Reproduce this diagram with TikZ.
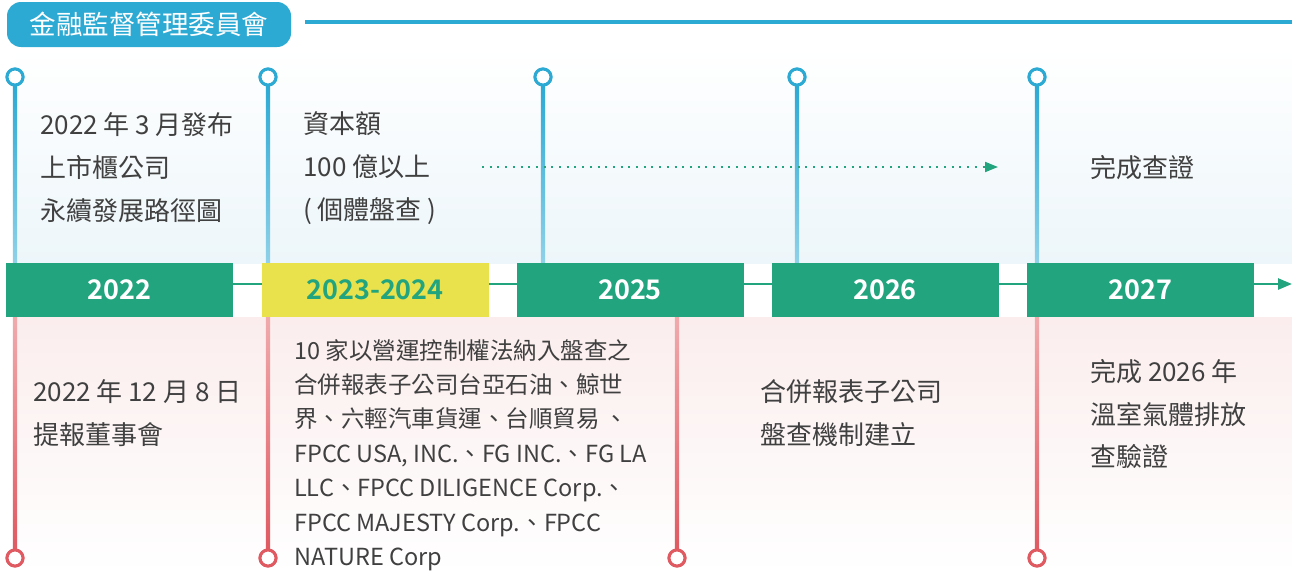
\documentclass[tikz,border=0pt]{standalone}
\usepackage{fontspec}
\setmainfont{Noto Sans CJK TC}[BoldFont={Noto Sans CJK TC Bold}]
\usetikzlibrary{arrows.meta,calc,positioning}
\definecolor{cSky}{HTML}{2DAAD4}
\definecolor{cSkyLt}{HTML}{8FD1E8}
\definecolor{cGreen}{HTML}{22A57E}
\definecolor{cYellow}{HTML}{E9E24D}
\definecolor{cRed}{HTML}{E05A62}
\definecolor{cRedLt}{HTML}{F0AAAC}
\definecolor{cBgBlue}{HTML}{EDF6FA}
\definecolor{cBgPink}{HTML}{FBEDED}
\definecolor{cInk}{HTML}{404040}
\tikzset{
  yearbox/.style={rectangle,fill=cGreen,text=white,minimum width=227pt,minimum height=54pt,inner sep=0pt,font=\fontsize{27}{30}\selectfont\bfseries},
  ring/.style={circle,draw=#1,fill=white,line width=3pt,minimum size=16pt,inner sep=0pt},
  note/.style={anchor=west,align=left,inner sep=0pt,text=cInk,font=\fontsize{26}{43}\selectfont},
  smallnote/.style={note,font=\fontsize{23.5}{34.4}\selectfont},
  hdr/.style={rectangle,rounded corners=14pt,fill=cSky,text=white,minimum width=284pt,minimum height=45pt,inner sep=0pt,font=\fontsize{26.5}{30}\selectfont},
  tl/.style={cGreen,line width=2.5pt,-{Triangle[length=14pt,width=11pt]}},
  dots/.style={cGreen,line width=2pt,dash pattern=on 2pt off 5.7pt,-{Triangle[length=13pt,width=10pt]}},
}
\begin{document}
\begin{tikzpicture}[x=1pt,y=-1pt]
  \useasboundingbox (0,0) rectangle (1292,573);
  % backgrounds
  \shade[top color=white,bottom color=cBgBlue] (15,47) rectangle (1292,263);
  \shade[top color=cBgPink,bottom color=white] (15,317) rectangle (1292,573);
  % header
  \node[hdr] (fsc) at (149,24.5) {金融監督管理委員會};
  \coordinate (hdrA) at (305,22); \coordinate (hdrB) at (1292,22);
  \draw[cSky,line width=3.5pt] (hdrA)--(hdrB);
  % timeline
  \coordinate (tlA) at (120,284); \coordinate (tlB) at (1292,284);
  \draw[tl] (tlA)--(tlB);
  \node[yearbox] (y2022) at (119.5,290) {2022};
  \node[yearbox,fill=cYellow,text=cGreen] (y2324) at (375,290) {2023-2024};
  \node[yearbox] (y2025) at (630,290) {2025};
  \node[yearbox] (y2026) at (885,290) {2026};
  \node[yearbox] (y2027) at (1140.5,290) {2027};
  % upper stems
  \foreach \x/\b in {15/y2022,268/y2324,543/y2025,797/y2026,1037/y2027}{
    \node[ring=cSky] (up-\x) at (\x,77) {};
    \shade[top color=cSky,bottom color=cSkyLt] ($(up-\x.south)+(-2.2,0)$) rectangle ($(up-\x |- \b.north)+(2.2,0)$);
    \node[ring=cSky] at (up-\x) {};
  }
  % lower stems
  \foreach \x/\b in {15/y2022,268/y2324,677/y2025,1037/y2027}{
    \node[ring=cRed] (lo-\x) at (\x,558) {};
    \shade[top color=cRedLt,bottom color=cRed] ($(lo-\x |- \b.south)+(-2.2,0)$) rectangle ($(lo-\x.north)+(2.2,0)$);
    \node[ring=cRed] at (lo-\x) {};
  }
  % upper notes
  \node[note] (upA) at (40,168) {2022 年 3 月發布\\上市櫃公司\\永續發展路徑圖};
  \node[note] (upB) at (303,168) {資本額\\100 億以上\\( 個體盤查 )};
  \node[note] (upE) at (1090,168) {完成查證};
  \coordinate (dotA) at (482,167); \coordinate (dotB) at (998,167);
  \draw[dots] (dotA)--(dotB);
  % lower notes
  \node[note] (loA) at (33,413) {2022 年 12 月 8 日\\提報董事會};
  \node[smallnote] (loB) at (294,455) {10 家以營運控制權法納入盤查之\\合併報表子公司台亞石油、鯨世\\界、六輕汽車貨運、台順貿易 、\\FPCC USA, INC.、FG INC.、FG LA\\LLC、FPCC DILIGENCE Corp.、\\FPCC MAJESTY Corp.、FPCC\\NATURE Corp};
  \node[note] (loC) at (760,413.5) {合併報表子公司\\盤查機制建立};
  \node[note,font=\fontsize{26}{42.5}\selectfont] (loE) at (1090,414.5) {完成 2026 年\\溫室氣體排放\\查驗證};
\end{tikzpicture}
\end{document}
